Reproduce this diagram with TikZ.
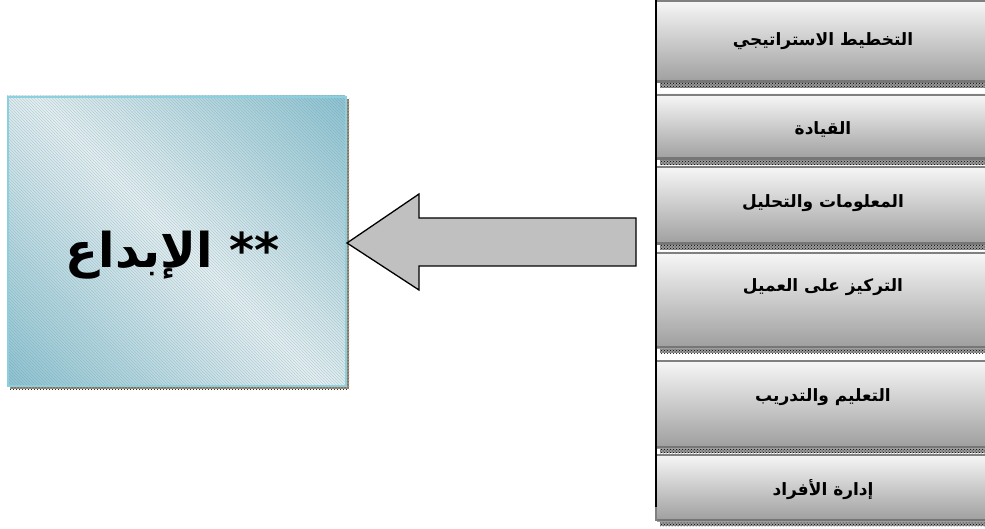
\documentclass[tikz,border=0pt]{standalone}
\usepackage{fontspec}
\newfontfamily\arabicfont[Script=Arabic]{DejaVu Sans}
\TeXXeTstate=1
\usetikzlibrary{patterns,calc}

\definecolor{boxblue}{HTML}{8EC6D6}
\definecolor{boxlight}{HTML}{E2F1F4}
\definecolor{boxedge}{HTML}{8CCFDD}
\definecolor{arrowgray}{HTML}{C0C0C0}
\definecolor{edgegray}{HTML}{808080}
\definecolor{banddark}{HTML}{767676}
\definecolor{shadowgray}{HTML}{999999}

\tikzset{
  labeltext/.style={font=\arabicfont\bfseries\fontsize{17}{20}\selectfont, inner sep=0pt},
  bigtext/.style={font=\arabicfont\bfseries\fontsize{48}{52}\selectfont},
  dotshadow/.style={pattern=crosshatch dots, pattern color=black},
}

% one bar of the right-hand column: name, top edge, bottom edge, text height, text
\newcommand{\menubox}[5]{%
  \fill[shadowgray] (660,#3) rectangle (990,#3+5);
  \fill[dotshadow] (660,#3) rectangle (990,#3+5);
  \shade[top color=white!97!black, middle color=black!17, bottom color=black!38]
    (657,#2) rectangle (990,#3);
  \fill[edgegray] (657,#2) rectangle (990,#2+2);
  \fill[banddark] (657,#3-2.5) rectangle (990,#3);
  \node[labeltext] (#1) at (823,#4) {#5};
}

\begin{document}
\begin{tikzpicture}[x=1pt,y=-1pt]
\clip (0,0) rectangle (985,529);
\fill[white] (0,0) rectangle (985,529);

% main box: dotted drop shadow, diagonal gradient in bands, fine hatching, light border
\fill[shadowgray!70!brown] (10,99) rectangle (349,389);
\fill[dotshadow] (10,99) rectangle (349,389);
\begin{scope}
  \clip (7,96) rectangle (345,385);
  \foreach \u in {-384,-378,...,252} {
    \pgfmathtruncatemacro{\mix}{min(100,abs(\u+3+64)/300*100)}
    \fill[boxblue!\mix!boxlight] (\u,0) -- (\u+480,480) -- (\u+487,480) -- (\u+7,0) -- cycle;
  }
\end{scope}
\fill[pattern=north west lines, pattern color=gray, opacity=0.3] (7,96) rectangle (345,385);
\node[anchor=north west, minimum width=338pt, minimum height=289pt, inner sep=0pt,
      draw=boxedge, line width=2pt] (ibdaa) at (7,96) {};
\node[bigtext] (ibdaatext) at (173,255) {\beginR ** الإبداع\endR};

% right-hand column
\menubox{strat}{0}{83}{41}{\beginR التخطيط الاستراتيجي\endR}
\menubox{lead}{94}{160}{129}{\beginR القيادة\endR}
\menubox{info}{166}{245}{203}{\beginR المعلومات والتحليل\endR}
\menubox{cust}{252}{348}{287}{\beginR التركيز على العميل\endR}
\menubox{learn}{360}{448}{397}{\beginR التعليم والتدريب\endR}
\menubox{people}{454}{521}{490}{\beginR إدارة الأفراد\endR}
\draw[line width=2pt] (656,0) -- (656,507);
\draw[edgegray, line width=2pt] (656,507) -- (656,521);

% block arrow into the main box
\coordinate (tip) at ($(ibdaa.east)+(0,1.5)$);
\draw[fill=arrowgray, line width=1.3pt, line join=miter]
  (tip) -- ++(72,-49) -- ++(0,24) -- ++(217,0) -- ++(0,48)
  -- ++(-217,0) -- ++(0,24) -- cycle;
\end{tikzpicture}
\end{document}
